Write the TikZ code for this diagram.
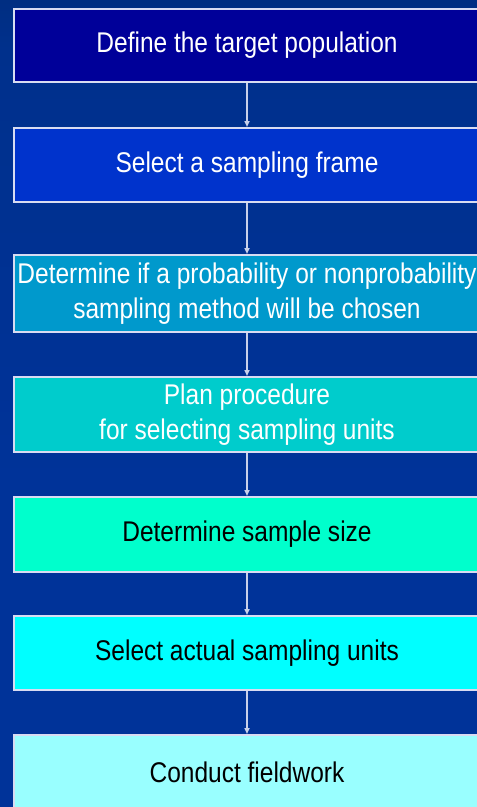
\documentclass[tikz,border=0pt]{standalone}
\usepackage{fontspec}
\setmainfont{Liberation Sans}[FakeStretch=0.86]
\usetikzlibrary{arrows.meta}

\definecolor{bgdeep}{HTML}{003399}
\definecolor{bgmid}{HTML}{00308C}
\definecolor{bgupper}{HTML}{00275C}
\definecolor{bgtop}{HTML}{0A1A3C}
\definecolor{frameline}{HTML}{D8DCF2}
\definecolor{arrowline}{HTML}{C8D0EA}
\definecolor{stepA}{HTML}{000099}
\definecolor{stepB}{HTML}{0033CC}
\definecolor{stepC}{HTML}{0099CC}
\definecolor{stepD}{HTML}{00CCCC}
\definecolor{stepE}{HTML}{00FFCC}
\definecolor{stepF}{HTML}{00FFFF}
\definecolor{stepG}{HTML}{99FFFF}

\pgfdeclareverticalshading{slideback}{100bp}{
  color(0bp)=(bgdeep); color(45bp)=(bgdeep); color(72bp)=(bgmid);
  color(86bp)=(bgupper); color(100bp)=(bgtop)}

\tikzset{
  stagebox/.style={draw=frameline, line width=2pt, minimum width=466pt,
    inner sep=0pt, align=center, font=\fontsize{28.5}{35}\selectfont},
  lighttext/.style={text=white},
  darktext/.style={text=black},
  flow/.style={draw=arrowline, line width=1.5pt,
    -{Triangle[length=6pt,width=5pt]}},
}

\begin{document}
\begin{tikzpicture}[x=1pt,y=-1pt]
  \useasboundingbox (0,0) rectangle (477,807);
  \begin{scope}
    \clip (0,0) rectangle (477,807);
    \shade[shading=slideback] (0,0) rectangle (477,807);

    \node[stagebox, lighttext, fill=stepA, minimum height=73pt] (s1) at (247,45.5)
      {Define the target population};
    \node[stagebox, lighttext, fill=stepB, minimum height=74pt] (s2) at (247,165)
      {Select a sampling frame};
    \node[stagebox, lighttext, fill=stepC, minimum height=77pt] (s3) at (247,293.5)
      {Determine if a probability or nonprobability\\sampling method will be chosen};
    \node[stagebox, lighttext, fill=stepD, minimum height=75pt] (s4) at (247,414.5)
      {Plan procedure\\for selecting sampling units};
    \node[stagebox, darktext, fill=stepE, minimum height=75pt] (s5) at (247,534.5)
      {Determine sample size};
    \node[stagebox, darktext, fill=stepF, minimum height=74pt] (s6) at (247,653)
      {Select actual sampling units};
    \node[stagebox, darktext, fill=stepG, minimum height=75pt] (s7) at (247,772.5)
      {Conduct fieldwork};

    \draw[flow] (s1.south) -- (s2.north);
    \draw[flow] (s2.south) -- (s3.north);
    \draw[flow] (s3.south) -- (s4.north);
    \draw[flow] (s4.south) -- (s5.north);
    \draw[flow] (s5.south) -- (s6.north);
    \draw[flow] (s6.south) -- (s7.north);
  \end{scope}
\end{tikzpicture}
\end{document}
